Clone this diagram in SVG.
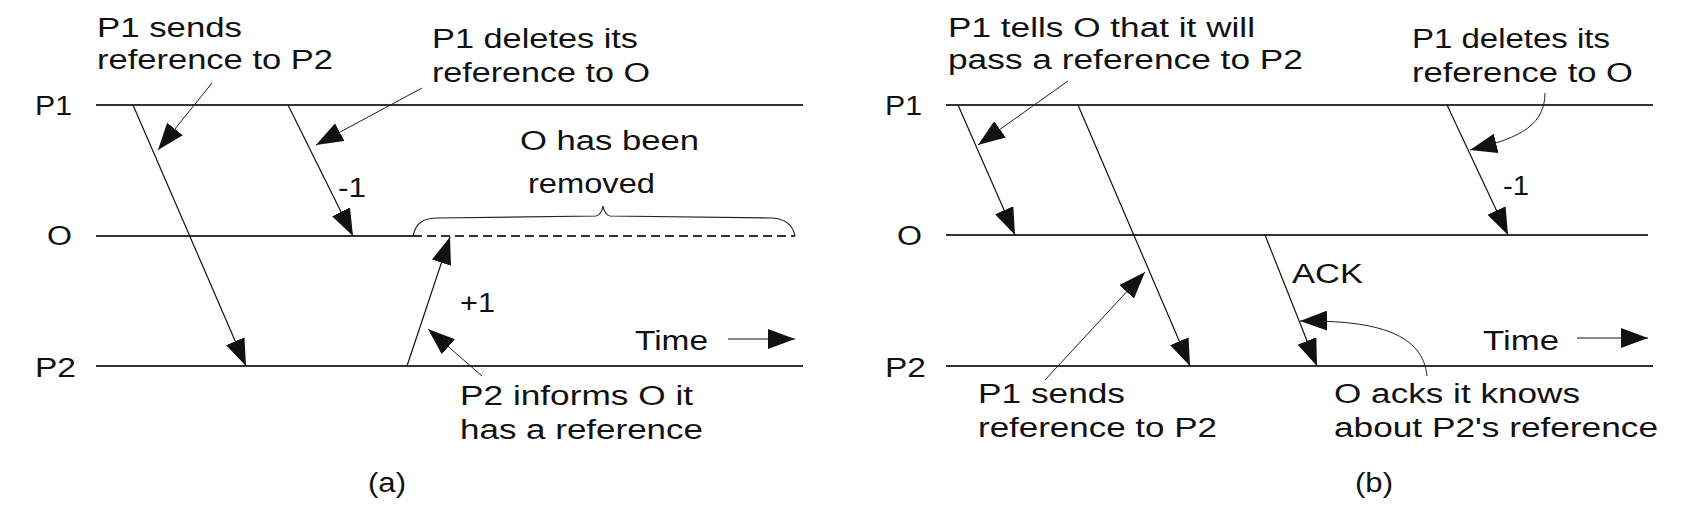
<svg xmlns="http://www.w3.org/2000/svg" width="1695" height="527" viewBox="0 0 1695 527">
<style>
text{font-family:"Liberation Sans",Arial,sans-serif;font-size:27px;fill:#111}
.tl{stroke:#333;stroke-width:1.8;fill:none}
.msg{stroke:#111;stroke-width:1.2;fill:none;marker-end:url(#ah)}
.call{stroke:#222;stroke-width:1;fill:none;marker-end:url(#ah)}
</style>
<defs>
<marker id="ah" markerUnits="userSpaceOnUse" markerWidth="27" markerHeight="20" viewBox="0 0 27 20" refX="27" refY="10" orient="auto">
<path d="M0,0 L27,10 L0,20 z" fill="#111"/>
</marker>
</defs>
<rect width="1695" height="527" fill="#fff"/>

<!-- Panel (a) -->
<g id="a-timelines">
<line class="tl" x1="96" y1="105" x2="803" y2="105"/>
<line class="tl" x1="96" y1="236" x2="413" y2="236"/>
<line class="tl" x1="413" y1="236" x2="795" y2="236" stroke-dasharray="9 5"/>
<line class="tl" x1="96" y1="366" x2="803" y2="366"/>
</g>
<g id="a-labels">
<text x="35" y="115" textLength="37" lengthAdjust="spacingAndGlyphs">P1</text>
<text x="47" y="245" textLength="25" lengthAdjust="spacingAndGlyphs">O</text>
<text x="35" y="377" textLength="41" lengthAdjust="spacingAndGlyphs">P2</text>
</g>
<g id="a-note-sends">
<text x="97" y="37" textLength="145" lengthAdjust="spacingAndGlyphs">P1 sends</text>
<text x="97" y="69" textLength="236" lengthAdjust="spacingAndGlyphs">reference to P2</text>
</g>
<g id="a-note-deletes">
<text x="432" y="48" textLength="206" lengthAdjust="spacingAndGlyphs">P1 deletes its</text>
<text x="432" y="82" textLength="218" lengthAdjust="spacingAndGlyphs">reference to O</text>
</g>
<g id="a-note-removed">
<text x="520" y="150" textLength="179" lengthAdjust="spacingAndGlyphs">O has been</text>
<text x="528" y="193" textLength="127" lengthAdjust="spacingAndGlyphs">removed</text>
<path d="M413,236 C416,222 424,218 438,218 L596,216 C600,215 602,212 603,206 C604,212 606,215 610,216 L772,218 C786,219 793,225 795,236" stroke="#222" stroke-width="1.2" fill="none"/>
</g>
<g id="a-note-informs">
<text x="460" y="405" textLength="233" lengthAdjust="spacingAndGlyphs">P2 informs O it</text>
<text x="460" y="439" textLength="243" lengthAdjust="spacingAndGlyphs">has a reference</text>
</g>
<g id="a-time">
<text x="635" y="350" textLength="73" lengthAdjust="spacingAndGlyphs">Time</text>
</g>
<g id="a-msg-labels">
<text x="338" y="197" textLength="28" lengthAdjust="spacingAndGlyphs">-1</text>
<text x="460" y="312" textLength="35" lengthAdjust="spacingAndGlyphs">+1</text>
</g>
<g id="a-caption"><text x="368" y="492" textLength="38" lengthAdjust="spacingAndGlyphs">(a)</text></g>

<!-- Panel (b) -->
<g id="b-timelines">
<line class="tl" x1="946" y1="105" x2="1653" y2="105"/>
<line class="tl" x1="946" y1="235" x2="1648" y2="235"/>
<line class="tl" x1="946" y1="366" x2="1653" y2="366"/>
</g>
<g id="b-labels">
<text x="885" y="115" textLength="37" lengthAdjust="spacingAndGlyphs">P1</text>
<text x="897" y="245" textLength="25" lengthAdjust="spacingAndGlyphs">O</text>
<text x="885" y="377" textLength="41" lengthAdjust="spacingAndGlyphs">P2</text>
</g>
<g id="b-note-tells">
<text x="948" y="37" textLength="307" lengthAdjust="spacingAndGlyphs">P1 tells O that it will</text>
<text x="948" y="69" textLength="355" lengthAdjust="spacingAndGlyphs">pass a reference to P2</text>
</g>
<g id="b-note-deletes">
<text x="1412" y="48" textLength="198" lengthAdjust="spacingAndGlyphs">P1 deletes its</text>
<text x="1412" y="82" textLength="221" lengthAdjust="spacingAndGlyphs">reference to O</text>
</g>
<g id="b-note-sends">
<text x="978" y="403" textLength="147" lengthAdjust="spacingAndGlyphs">P1 sends</text>
<text x="978" y="437" textLength="239" lengthAdjust="spacingAndGlyphs">reference to P2</text>
</g>
<g id="b-note-acks">
<text x="1334" y="403" textLength="246" lengthAdjust="spacingAndGlyphs">O acks it knows</text>
<text x="1334" y="437" textLength="324" lengthAdjust="spacingAndGlyphs">about P2's reference</text>
</g>
<g id="b-time">
<text x="1483" y="350" textLength="76" lengthAdjust="spacingAndGlyphs">Time</text>
</g>
<g id="b-msg-labels">
<text x="1503" y="195" textLength="26" lengthAdjust="spacingAndGlyphs">-1</text>
<text x="1292" y="283" textLength="71" lengthAdjust="spacingAndGlyphs">ACK</text>
</g>
<g id="b-caption"><text x="1355" y="492" textLength="38" lengthAdjust="spacingAndGlyphs">(b)</text></g>

<!-- Connectors -->
<g id="connectors">
<line class="msg" x1="133" y1="105" x2="246" y2="366"/>
<line class="msg" x1="288" y1="105" x2="353" y2="236"/>
<line class="msg" x1="407" y1="366" x2="450" y2="237"/>
<line class="msg" x1="728" y1="339" x2="795" y2="339"/>
<line class="call" x1="212" y1="83" x2="158" y2="150"/>
<line class="call" x1="422" y1="88" x2="316" y2="145"/>
<line class="call" x1="482" y1="376" x2="428" y2="329"/>

<line class="msg" x1="958" y1="105" x2="1015" y2="235"/>
<line class="msg" x1="1078" y1="105" x2="1190" y2="366"/>
<line class="msg" x1="1265" y1="235" x2="1317" y2="366"/>
<line class="msg" x1="1447" y1="105" x2="1508" y2="235"/>
<line class="msg" x1="1577" y1="338" x2="1648" y2="338"/>
<line class="call" x1="1068" y1="81" x2="978" y2="145"/>
<line class="call" x1="1045" y1="380" x2="1145" y2="272"/>
<path class="call" d="M1545,93 C1545,130 1510,140 1470,150"/>
<path class="call" d="M1427,376 C1423,335 1380,320 1300,321"/>
</g>
</svg>
